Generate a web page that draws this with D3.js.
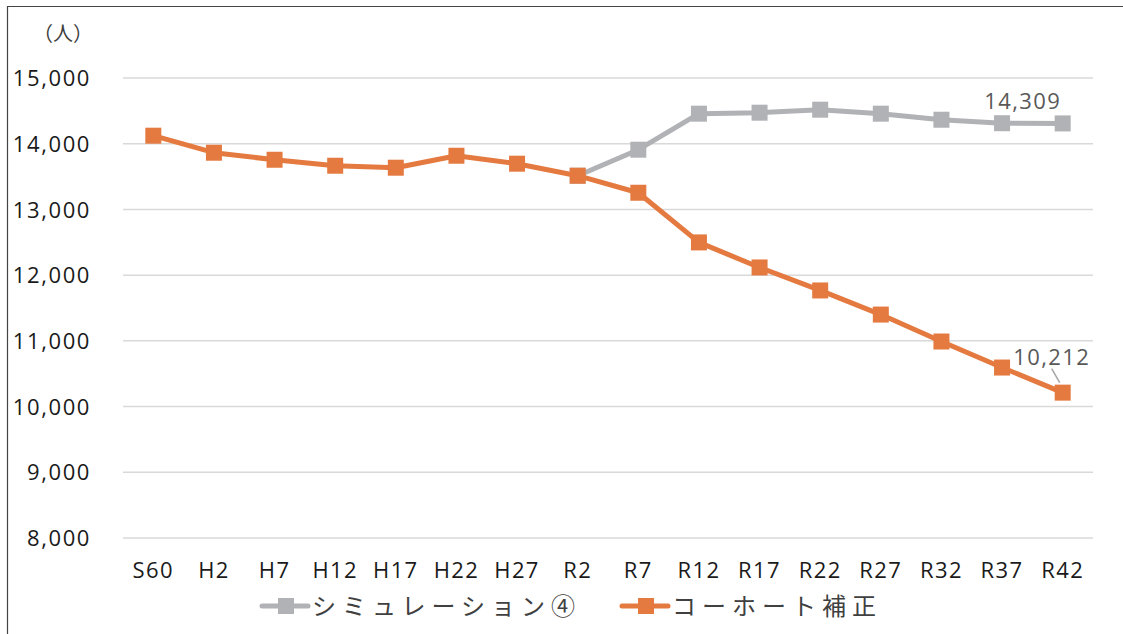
<!DOCTYPE html>
<html><head><meta charset="utf-8">
<script src="https://cdn.jsdelivr.net/npm/d3@7"></script>
<style>body{margin:0;background:#fff;} svg{display:block;font-family:"Noto Sans CJK JP","Noto Sans",sans-serif;}</style>
</head><body>
<svg id="c" width="1123" height="634"></svg>
<script>
const categories = ["S60","H2","H7","H12","H17","H22","H27","R2","R7","R12","R17","R22","R27","R32","R37","R42"];
const simulation4 = [null,null,null,null,null,null,null,13513,13909,14457,14472,14518,14457,14365,14312,14309];
const cohort = [14122,13863,13756,13665,13635,13817,13696,13513,13254,12498,12117,11767,11400,10990,10594,10212];
const yTicks = [8000,9000,10000,11000,12000,13000,14000,15000];
const seriesNames = ["シミュレーション④","コーホート補正"];
const colors = ["#B1B2B6","#E57A40"];

(function(){
const svg = d3.select("#c");
const pLeft = 123, pRight = 1093, pTop = 78, pBottom = 538;
const numFont = "Open Sans, Noto Sans, sans-serif";
svg.append("path").attr("d","M7.5,634 V6.5 H1123").attr("fill","none").attr("stroke","#444").attr("stroke-width",1.2);

const x = d3.scaleBand().domain(categories).range([pLeft,pRight]);
const y = d3.scaleLinear().domain([8000,15000]).range([pBottom,pTop]);

svg.append("g").selectAll("line").data(yTicks).join("line")
  .attr("x1",pLeft).attr("x2",pRight).attr("y1",d=>y(d)).attr("y2",d=>y(d))
  .attr("stroke","#D9D9D9").attr("stroke-width",1.5);

const fmt = d3.format(",");
const yAxis = d3.axisLeft(y).tickValues(yTicks).tickFormat(fmt).tickSize(0).tickPadding(0);
const ga = svg.append("g").attr("transform","translate(91,0)").call(yAxis);
ga.select(".domain").remove();
ga.selectAll("text").attr("font-size",22).attr("letter-spacing","1.6px").attr("fill","#1a1a1a").attr("font-family",numFont).attr("dy","0.35em");

const xAxis = d3.axisBottom(x).tickSize(0).tickPadding(0);
const gx = svg.append("g").attr("transform","translate(0,561)").call(xAxis);
gx.select(".domain").remove();
gx.selectAll("text").attr("font-size",22).attr("letter-spacing","1.4px").attr("fill","#1a1a1a").attr("font-family",numFont).attr("dy","0.75em");

svg.append("text").attr("x",33).attr("y",41).attr("font-size",20).attr("fill","#404040").text("（人）");

const cx = d => x(d) + x.bandwidth()/2;
[simulation4, cohort].forEach((vals,i)=>{
  const pts = categories.map((c,j)=>({c,v:vals[j]})).filter(p=>p.v!=null);
  const line = d3.line().x(p=>cx(p.c)).y(p=>y(p.v));
  svg.append("path").datum(pts).attr("d",line).attr("fill","none")
    .attr("stroke",colors[i]).attr("stroke-width",5).attr("stroke-linejoin","round");
  svg.append("g").selectAll("rect").data(pts).join("rect")
    .attr("x",p=>cx(p.c)-8).attr("y",p=>y(p.v)-8).attr("width",16).attr("height",16)
    .attr("fill",colors[i]);
});

const lastI = categories.length-1;
svg.append("text").attr("x",cx(categories[lastI])-40).attr("y",y(simulation4[lastI])-14)
  .attr("text-anchor","middle").attr("font-size",22).attr("letter-spacing","1.4px").attr("fill","#595959").attr("font-family",numFont).text(fmt(simulation4[lastI]));
svg.append("text").attr("x",cx(categories[lastI])-11).attr("y",y(cohort[lastI])-28)
  .attr("text-anchor","middle").attr("font-size",22).attr("letter-spacing","1.4px").attr("fill","#595959").attr("font-family",numFont).text(fmt(cohort[lastI]));
svg.append("line").attr("x1",cx(categories[lastI])-11).attr("y1",y(cohort[lastI])-24)
  .attr("x2",cx(categories[lastI])-3).attr("y2",y(cohort[lastI])-10).attr("stroke","#A6A6A6").attr("stroke-width",1.5);

const legX = [262, 622];
seriesNames.forEach((n,i)=>{
  const g = svg.append("g").attr("transform",`translate(${legX[i]},606)`);
  g.append("line").attr("x1",0).attr("x2",46).attr("stroke",colors[i]).attr("stroke-width",5).attr("stroke-linecap","round");
  g.append("rect").attr("x",16).attr("y",-8).attr("width",16).attr("height",16).attr("fill",colors[i]);
  g.append("text").attr("x",50).attr("y",0).attr("dy","0.36em").attr("font-size",24).attr("letter-spacing","6px").attr("fill","#404040").text(n);
});
})();
</script>
</body></html>
